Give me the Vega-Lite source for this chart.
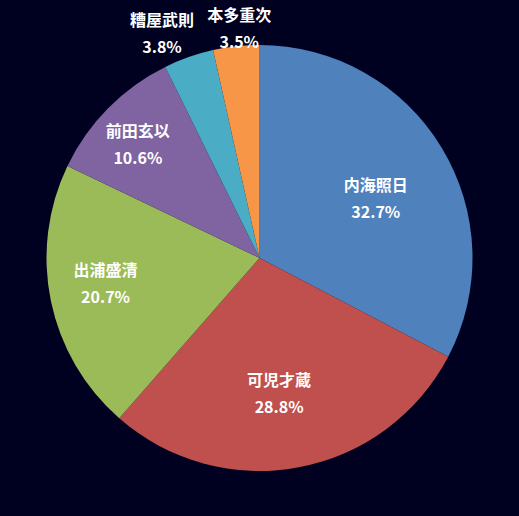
{
  "$schema": "https://vega.github.io/schema/vega-lite/v6.json",
  "width": 519,
  "height": 516,
  "autosize": {"type": "none"},
  "padding": 0,
  "background": "#000021",
  "view": {"stroke": null},
  "config": {
    "text": {"font": "Noto Sans CJK JP", "fontWeight": "bold", "fontSize": 16, "fill": "white", "lineBreak": "\n", "lineHeight": 27, "baseline": "middle", "align": "center"}
  },
  "data": {"values": [
    {"name": "内海照日", "value": 32.7},
    {"name": "可児才蔵", "value": 28.8},
    {"name": "出浦盛清", "value": 20.7},
    {"name": "前田玄以", "value": 10.6},
    {"name": "糟屋武則", "value": 3.8},
    {"name": "本多重次", "value": 3.5}
  ]},
  "transform": [
    {"calculate": "datum.name + '\\n' + format(datum.value, '.1f') + '%'", "as": "label"}
  ],
  "encoding": {
    "theta": {"field": "value", "type": "quantitative", "stack": true},
    "order": {"field": "value", "type": "quantitative", "sort": "descending"},
    "text": {"field": "label"}
  },
  "layer": [
    {
      "mark": {"type": "arc", "outerRadius": 213},
      "encoding": {
        "text": null,
        "color": {
          "field": "name", "type": "nominal", "legend": null,
          "scale": {
            "domain": ["内海照日", "可児才蔵", "出浦盛清", "前田玄以", "糟屋武則", "本多重次"],
            "range": ["#4F81BD", "#C0504D", "#9BBB59", "#8064A2", "#4BACC6", "#F79646"]
          }
        }
      }
    },
    {
      "mark": {"type": "text", "radius": 150, "dx": -12, "dy": 6},
      "encoding": {"opacity": {"condition": {"test": "datum.name === '内海照日'", "value": 1}, "value": 0}}
    },
    {
      "mark": {"type": "text", "radius": 150, "dx": -8, "dy": -24},
      "encoding": {"opacity": {"condition": {"test": "datum.name === '可児才蔵'", "value": 1}, "value": 0}}
    },
    {
      "mark": {"type": "text", "radius": 150, "dx": -7, "dy": -17},
      "encoding": {"opacity": {"condition": {"test": "datum.name === '出浦盛清'", "value": 1}, "value": 0}}
    },
    {
      "mark": {"type": "text", "radius": 150, "dx": -15, "dy": -21},
      "encoding": {"opacity": {"condition": {"test": "datum.name === '前田玄以'", "value": 1}, "value": 0}}
    },
    {
      "mark": {"type": "text", "radius": 230, "dx": -21, "dy": -20},
      "encoding": {"opacity": {"condition": {"test": "datum.name === '糟屋武則'", "value": 1}, "value": 0}}
    },
    {
      "mark": {"type": "text", "radius": 230, "dx": 5, "dy": -13},
      "encoding": {"opacity": {"condition": {"test": "datum.name === '本多重次'", "value": 1}, "value": 0}}
    }
  ]
}
